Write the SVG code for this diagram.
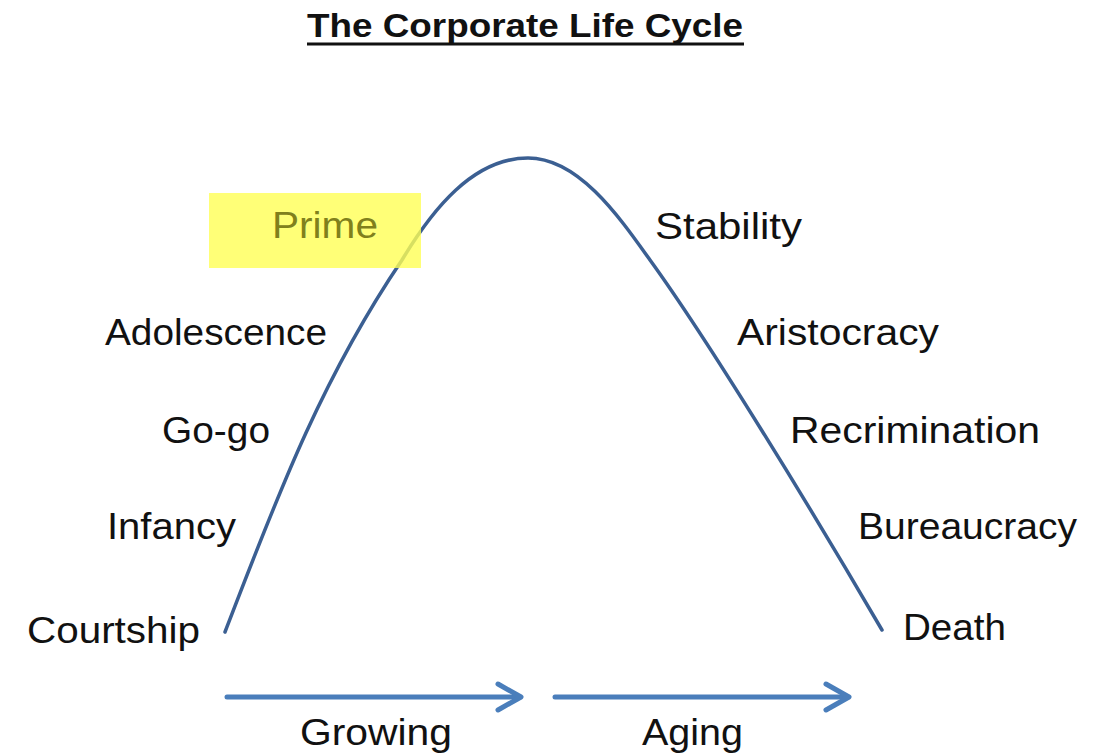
<svg xmlns="http://www.w3.org/2000/svg" width="1109" height="756" viewBox="0 0 1109 756">
<style>
.lbl{font-family:"Liberation Sans",Arial,sans-serif;font-size:37px;fill:#111}
.arr{stroke:#4a7ebb;stroke-width:5;fill:none;stroke-linecap:round;stroke-linejoin:round}
</style>
<rect width="1109" height="756" fill="#fff"/>
<g id="title"><text x="525" y="37" text-anchor="middle" font-family="Liberation Sans,Arial,sans-serif" font-weight="bold" font-size="34" fill="#111" textLength="436" lengthAdjust="spacingAndGlyphs">The Corporate Life Cycle</text><line x1="307" y1="44" x2="744" y2="44" stroke="#111" stroke-width="3"/></g>
<g id="connectors">
<path id="curve" d="M225,632 C273,508 318,384 402,260 C432,210 473,158 528,158 C578,158 618,215 650,260 C708,340 812,510 882,630" fill="none" stroke="#3b5f92" stroke-width="3.5" stroke-linecap="round"/>
<g id="arrow-growing"><line class="arr" x1="227" y1="697" x2="520" y2="697"/><polyline class="arr" points="498,684 521,697 498,710"/></g>
<g id="arrow-aging"><line class="arr" x1="555" y1="697" x2="848" y2="697"/><polyline class="arr" points="826,684 849,697 826,710"/></g>
</g>
<g id="prime"><rect x="209" y="193" width="212" height="75" fill="#ffff55" fill-opacity="0.8"/><text class="lbl" x="272" y="238" style="fill:#80801c" textLength="106" lengthAdjust="spacingAndGlyphs">Prime</text></g>
<g id="stability"><text class="lbl" x="655" y="239" textLength="147" lengthAdjust="spacingAndGlyphs">Stability</text></g>
<g id="adolescence"><text class="lbl" x="105" y="345" textLength="222" lengthAdjust="spacingAndGlyphs">Adolescence</text></g>
<g id="aristocracy"><text class="lbl" x="737" y="345" textLength="202" lengthAdjust="spacingAndGlyphs">Aristocracy</text></g>
<g id="gogo"><text class="lbl" x="162" y="443" textLength="108" lengthAdjust="spacingAndGlyphs">Go-go</text></g>
<g id="recrimination"><text class="lbl" x="790" y="443" textLength="250" lengthAdjust="spacingAndGlyphs">Recrimination</text></g>
<g id="infancy"><text class="lbl" x="107" y="539" textLength="129" lengthAdjust="spacingAndGlyphs">Infancy</text></g>
<g id="bureaucracy"><text class="lbl" x="858" y="539" textLength="219" lengthAdjust="spacingAndGlyphs">Bureaucracy</text></g>
<g id="courtship"><text class="lbl" x="27" y="643" textLength="173" lengthAdjust="spacingAndGlyphs">Courtship</text></g>
<g id="death"><text class="lbl" x="903" y="640" textLength="103" lengthAdjust="spacingAndGlyphs">Death</text></g>
<g id="growing"><text class="lbl" x="300" y="745" textLength="152" lengthAdjust="spacingAndGlyphs">Growing</text></g>
<g id="aging"><text class="lbl" x="642" y="745" textLength="101" lengthAdjust="spacingAndGlyphs">Aging</text></g>
</svg>
